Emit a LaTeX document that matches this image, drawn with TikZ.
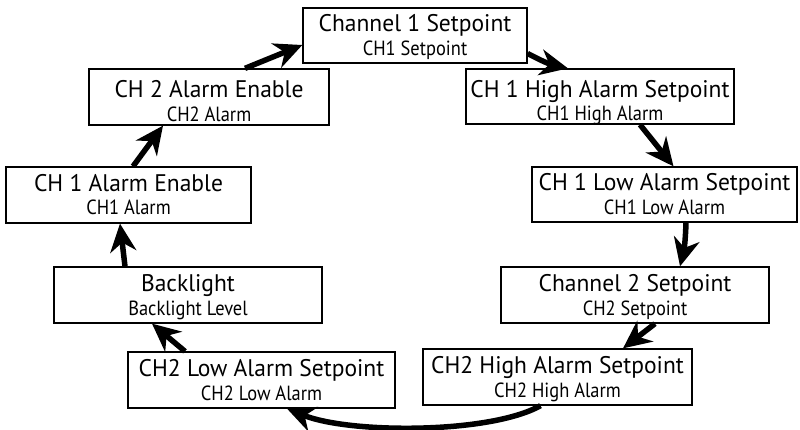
\documentclass[tikz,border=0pt]{standalone}
\usepackage{fontspec}
\setmainfont[FakeStretch=0.98]{PT Sans}
\newfontfamily\subfnt[FakeStretch=0.9]{PT Sans}
\usetikzlibrary{arrows.meta,calc}
\tikzset{
  menubox/.style={draw=black,line width=1.3pt,fill=white,inner sep=0pt},
  ttl/.style={anchor=base,inner sep=0pt,font=\fontsize{24}{26}\selectfont},
  sublbl/.style={anchor=base,inner sep=0pt,font=\subfnt\fontsize{20.5}{22}\selectfont},
  flow/.style={line width=5.5pt,-{Stealth[length=28pt,width=26pt,inset=9pt]}}
}
\newcommand{\mkbox}[8]{%
  \node[menubox,minimum width=#4pt,minimum height=#5pt] (#1) at (#2,#3) {};
  \node[ttl] (#1t) at ($(#1.center)+(0,-3.5+#8)$) {#6};
  \node[sublbl] (#1s) at ($(#1.center)+(0,20+#8)$) {#7};
}
\begin{document}
\begin{tikzpicture}[x=1pt,y=-1pt]
\useasboundingbox (0,0) rectangle (800,430);
\mkbox{A}{415}{35.5}{224}{55}{Channel 1 Setpoint}{CH1 Setpoint}{0}
\mkbox{B}{600}{96.5}{268}{55}{CH 1 High Alarm Setpoint}{CH1 High Alarm}{4.5}
\mkbox{C}{664.5}{194.5}{265}{55}{CH 1 Low Alarm Setpoint}{CH1 Low Alarm}{0}
\mkbox{D}{635}{295}{268}{56}{Channel 2 Setpoint}{CH2 Setpoint}{0}
\mkbox{E}{557.5}{377}{269}{56}{CH2 High Alarm Setpoint}{CH2 High Alarm}{0}
\mkbox{F}{261.5}{380}{267}{56}{CH2 Low Alarm Setpoint}{CH2 Low Alarm}{0}
\mkbox{G}{188}{295}{268}{56}{Backlight}{Backlight Level}{0}
\mkbox{H}{128.5}{195}{245}{56}{CH 1 Alarm Enable}{CH1 Alarm}{0}
\mkbox{I}{209}{97}{240}{56}{CH 2 Alarm Enable}{CH2 Alarm}{4.5}
% connectors
\draw[flow] ($(A.east)+(0,18)$) to[bend right=8] ($(B.north)+(-32,0)$);
\draw[flow] ($(B.south)+(40,0)$) -- ($(C.north)+(9,0)$);
\draw[flow] ($(C.south)+(21.5,0)$) to[bend left=6] ($(D.north)+(45,0)$);
\draw[flow] ($(D.south)+(20,0)$) -- ($(E.north)+(65.5,0)$);
\draw[flow] ($(E.south)+(-17,0)$) .. controls (490,434) and (350,434) .. ($(F.south)+(25.5,0)$);
\draw[flow] ($(F.north)+(-76.5,0)$) -- ($(G.south)+(-36,0)$);
\draw[flow] ($(G.north)+(-63,0)$) -- ($(H.south)+(-8.5,0)$);
\draw[flow] ($(H.north)+(4.5,0)$) -- ($(I.south)+(-46,0)$);
\draw[flow] ($(I.north)+(36,0)$) -- ($(A.west)+(0,9.5)$);
\end{tikzpicture}
\end{document}
